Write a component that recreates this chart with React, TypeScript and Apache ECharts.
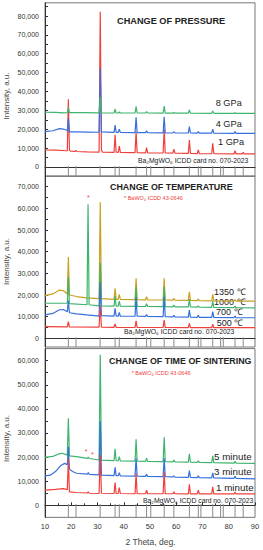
import React, { useEffect, useRef } from "react";
import * as echarts from "echarts";

// ---- data (2θ in degrees, intensity in thousands of counts) ----
const cardPositions = [18.9, 21.8, 31.0, 36.7, 38.3, 44.7, 48.7, 50.3, 55.4, 59.1, 65.0, 68.4, 69.4, 73.9, 76.9, 77.9, 82.4, 85.5];

const xTicks = [10, 20, 30, 40, 50, 60, 70, 80, 90];
const p1YLabels = [0, 10, 20, 30, 40, 50, 60, 70, 80];
const p2YLabels = [0, 10, 20, 30, 40, 50, 60, 70];
const p3YLabels = [0, 10, 20, 30, 40, 50, 60];

// Panel 1: change of pressure
const p1Gpa1 = [[10,9.0],[14,8.9],[18,8.6],[18.5,8.6],[18.9,35.9],[19.3,8.8],[19.7,8.4],[21.5,8.3],[21.8,8.8],[22.1,8.2],[26,8.0],[30.6,7.9],[31.05,82.3],[31.5,9.0],[31.9,7.9],[36.3,7.7],[36.7,17.0],[37.1,7.8],[37.9,7.7],[38.3,11.1],[38.7,7.7],[44.3,7.6],[44.7,18.7],[45.1,7.6],[48.3,7.5],[48.7,10.2],[49.1,7.5],[55.0,7.4],[55.4,20.0],[55.8,7.4],[58.7,7.3],[59.1,9.4],[59.5,7.3],[64.6,7.2],[65.0,14.3],[65.4,7.2],[68.0,7.1],[68.4,9.0],[68.8,7.1],[73.5,7.0],[73.9,12.5],[74.3,7.0],[82.0,6.9],[82.4,8.6],[82.8,6.9],[85.1,6.9],[85.5,7.8],[85.9,6.9],[90,6.9]];
const p1Gpa4 = [[10,18.7],[13,19.2],[15.5,20.3],[17,20.1],[18.5,19.3],[18.9,25.8],[19.3,18.6],[22,18.6],[26,18.5],[30.6,18.4],[31.05,52.3],[31.5,18.6],[36.3,18.3],[36.7,22.2],[37.1,18.3],[37.9,18.3],[38.3,20.0],[38.7,18.3],[44.3,18.2],[44.7,26.3],[45.1,18.2],[48.3,18.2],[48.7,19.1],[49.1,18.2],[55.0,18.1],[55.4,26.6],[55.8,18.1],[58.7,18.0],[59.1,18.7],[59.5,18.0],[64.6,18.0],[65.0,21.4],[65.4,18.0],[68.0,17.9],[68.4,18.7],[68.8,17.9],[73.5,17.9],[73.9,20.1],[74.3,17.9],[82.0,17.8],[82.4,18.7],[82.8,17.8],[90,17.8]];
const p1Gpa8 = [[10,29.0],[14,28.9],[17,28.7],[18.5,28.8],[18.9,31.6],[19.3,28.8],[25,28.8],[30.6,28.7],[31.05,37.2],[31.5,28.7],[36.3,28.6],[36.7,30.6],[37.1,28.6],[37.9,28.6],[38.3,29.1],[38.7,28.6],[44.3,28.6],[44.7,32.0],[45.1,28.6],[48.3,28.6],[48.7,29.3],[49.1,28.6],[55.0,28.5],[55.4,32.3],[55.8,28.5],[58.7,28.5],[59.1,28.9],[59.5,28.5],[64.6,28.5],[65.0,30.2],[65.4,28.5],[73.5,28.4],[73.9,29.7],[74.3,28.4],[82.0,28.4],[82.4,28.7],[82.8,28.4],[90,28.4]];

// Panel 2: change of temperature
const p2T500 = [[10,5.4],[18.5,5.3],[18.9,7.7],[19.3,5.3],[30.6,5.2],[31.05,15.2],[31.5,5.2],[36.3,5.1],[36.7,6.6],[37.1,5.1],[44.3,5.0],[44.7,8.1],[45.1,5.0],[55.0,5.0],[55.4,8.4],[55.8,5.0],[64.6,4.9],[65.0,6.9],[65.4,4.9],[73.5,4.9],[73.9,6.6],[74.3,4.9],[90,4.9]];
const p2T700 = [[10,10.8],[13,11.5],[15.5,13.2],[17,13.3],[18.5,12.3],[18.9,17.5],[19.3,11.8],[22,11.3],[26,10.8],[30.6,10.3],[31.05,26.0],[31.5,10.5],[36.3,10.3],[36.7,13.8],[37.1,10.3],[37.9,10.3],[38.3,12.0],[38.7,10.2],[44.3,10.2],[44.7,18.8],[45.1,10.2],[48.3,10.1],[48.7,11.0],[49.1,10.1],[55.0,10.0],[55.4,19.2],[55.8,10.0],[58.7,9.9],[59.1,10.6],[59.5,9.9],[64.6,9.8],[65.0,13.1],[65.4,9.8],[68.0,9.7],[68.4,10.6],[68.8,9.7],[73.5,9.7],[73.9,12.3],[74.3,9.7],[82.0,9.6],[82.4,10.2],[82.8,9.6],[90,9.5]];
const p2T1000 = [[10,16.2],[18.5,16.3],[18.9,28.3],[19.3,16.0],[26.0,15.5],[26.4,61.9],[26.8,15.5],[30.6,15.0],[31.05,35.0],[31.5,15.0],[36.3,14.9],[36.7,19.5],[37.1,14.9],[37.9,14.9],[38.3,17.2],[38.7,14.9],[44.3,14.8],[44.7,23.8],[45.1,14.8],[48.3,14.7],[48.7,16.0],[49.1,14.7],[55.0,14.6],[55.4,23.8],[55.8,14.6],[58.7,14.5],[59.1,15.4],[59.5,14.5],[64.6,14.5],[65.0,18.1],[65.4,14.5],[68.0,14.4],[68.4,15.0],[68.8,14.4],[73.5,14.3],[73.9,17.2],[74.3,14.3],[82.0,14.2],[82.4,14.9],[82.8,14.2],[90,14.1]];
const p2T1350 = [[10,19.7],[13,20.5],[15.5,22.3],[17,22.0],[18.5,20.5],[18.9,37.5],[19.3,20.0],[22,19.3],[26,18.7],[30.6,18.3],[31.05,62.8],[31.5,18.3],[36.3,18.0],[36.7,23.1],[37.1,18.0],[37.9,18.0],[38.3,20.3],[38.7,18.0],[44.3,17.9],[44.7,27.7],[45.1,17.9],[48.3,17.8],[48.7,19.2],[49.1,17.8],[55.0,17.7],[55.4,27.7],[55.8,17.7],[58.7,17.6],[59.1,18.5],[59.5,17.6],[64.6,17.5],[65.0,21.5],[65.4,17.5],[68.0,17.4],[68.4,18.1],[68.8,17.4],[73.5,17.3],[73.9,20.3],[74.3,17.3],[82.0,17.2],[82.4,17.9],[82.8,17.2],[90,17.2]];

// Panel 3: change of time of sintering
const p3Min1 = [[10,6.3],[14,6.6],[17,6.9],[18.5,6.5],[18.9,19.5],[19.3,5.6],[22,5.3],[26.1,5.1],[26.5,5.6],[26.9,5.0],[30.6,4.9],[31.05,21.0],[31.5,5.0],[36.3,4.9],[36.7,9.4],[37.1,4.9],[37.9,4.9],[38.3,7.3],[38.7,4.9],[44.3,4.8],[44.7,13.3],[45.1,4.8],[48.3,4.8],[48.7,6.3],[49.1,4.8],[55.0,4.8],[55.4,13.9],[55.8,4.8],[58.7,4.8],[59.1,5.6],[59.5,4.8],[64.6,4.7],[65.0,8.7],[65.4,4.7],[68.0,4.7],[68.4,6.3],[68.8,4.7],[73.5,4.7],[73.9,7.7],[74.3,4.7],[82.0,4.7],[82.4,5.5],[82.8,4.7],[90,4.7]];
const p3Min3 = [[10,12.2],[12,12.5],[14,14.0],[16,16.5],[17.5,17.4],[18.5,16.8],[18.9,24.3],[19.3,15.0],[20.5,14.0],[22,13.3],[26.1,12.9],[26.5,13.6],[26.9,12.8],[30.6,12.6],[31.05,35.0],[31.5,12.5],[36.3,12.3],[36.7,15.8],[37.1,12.3],[37.9,12.3],[38.3,13.5],[38.7,12.2],[44.3,12.1],[44.7,19.5],[45.1,12.1],[48.3,12.0],[48.7,12.9],[49.1,12.0],[55.0,11.9],[55.4,19.5],[55.8,11.9],[58.7,11.8],[59.1,12.2],[59.5,11.7],[64.6,11.6],[65.0,14.4],[65.4,11.6],[68.0,11.5],[68.4,12.2],[68.8,11.5],[73.5,11.4],[73.9,13.5],[74.3,11.4],[82.0,11.2],[82.4,12.0],[82.8,11.2],[90,11.0]];
const p3Min5 = [[10,19.9],[13,20.3],[15,21.2],[16.5,21.6],[18.0,21.0],[18.5,20.8],[18.9,36.1],[19.3,20.5],[22,20.2],[26.1,19.5],[26.5,20.0],[26.9,19.4],[30.6,18.8],[31.05,62.4],[31.5,18.7],[36.3,18.5],[36.7,23.4],[37.1,18.5],[37.9,18.4],[38.3,20.2],[38.7,18.4],[44.3,18.3],[44.7,27.4],[45.1,18.3],[48.3,18.2],[48.7,19.5],[49.1,18.2],[55.0,18.1],[55.4,28.2],[55.8,18.1],[58.7,18.0],[59.1,18.8],[59.5,18.0],[64.6,17.9],[65.0,21.3],[65.4,17.9],[68.0,17.8],[68.4,18.4],[68.8,17.8],[73.5,17.7],[73.9,20.5],[74.3,17.7],[82.0,17.5],[82.4,18.3],[82.8,17.5],[90,17.4]];

const RED = "#f0403c";
const BLUE = "#3570dc";
const GREEN = "#3fb46e";
const GOLD = "#c9a020";
const FONT = "Liberation Sans, Arial, sans-serif";

const panels = [
  { top: 2.8, bottom: 176.4, min: -5, max: 87, labels: p1YLabels },
  { top: 175.9, bottom: 347.0, min: -4, max: 75, labels: p2YLabels },
  { top: 348.6, bottom: 517.35, min: -5, max: 65, labels: p3YLabels },
];

function fmt(v: number) {
  return (v * 1000).toLocaleString("en-US");
}

export default function App() {
  const ref = useRef<HTMLDivElement>(null);
  useEffect(() => {
    if (!ref.current) return;
    const chart = echarts.init(ref.current, null, { renderer: "svg" });

    const grids = panels.map((p) => ({
      left: 45,
      width: 210,
      top: p.top,
      height: p.bottom - p.top,
      show: true,
      borderColor: "#777",
      borderWidth: 1,
      backgroundColor: "transparent",
    }));

    const xAxes = panels.map((p, i) => ({
      type: "value",
      gridIndex: i,
      min: 10,
      max: 90,
      interval: 10,
      axisLine: { show: true, lineStyle: { color: "#333", width: 1 } },
      axisTick: { show: i === 2, inside: true, length: 3, lineStyle: { color: "#333" } },
      minorTick: { show: i === 2, splitNumber: 2, length: 2, lineStyle: { color: "#333" } },
      axisLabel: { show: i === 2, fontSize: 7.5, color: "#333", fontFamily: FONT, margin: 5 },
      splitLine: { show: false },
    }));

    const yAxes = panels.map((p, i) => {
      const tickVals: number[] = [];
      for (const v of p.labels) { tickVals.push(v); tickVals.push(v + 5); }
      return {
        type: "value",
        gridIndex: i,
        min: p.min,
        max: p.max,
        axisLine: { show: true, lineStyle: { color: "#333", width: 1 } },
        axisTick: { show: true, inside: true, length: 3, customValues: tickVals.filter((v) => v < p.max), lineStyle: { color: "#333" } },
        axisLabel: { show: true, customValues: p.labels, formatter: fmt, fontSize: 7, color: "#333", fontFamily: FONT, margin: 6 },
        splitLine: { show: false },
      };
    });

    const line = (data: number[][], color: string, gi: number) => ({
      type: "line",
      xAxisIndex: gi,
      yAxisIndex: gi,
      data,
      symbol: "none",
      lineStyle: { color, width: 1.2 },
      silent: true,
    });

    const sticks = (gi: number) => ({
      type: "custom",
      xAxisIndex: gi,
      yAxisIndex: gi,
      data: cardPositions.map((c) => [c, 0]),
      renderItem: (params: any, api: any) => {
        const x = api.value(0);
        const a = api.coord([x, 0.5]);
        const b = api.coord([x, panels[gi].min]);
        return {
          type: "line",
          shape: { x1: a[0], y1: a[1], x2: b[0], y2: b[1] },
          style: { stroke: "#8a8a8a", lineWidth: 1 },
        };
      },
      silent: true,
    });

    const txt = (text: string, x: number, y: number, size: number, opts: any = {}) => ({
      type: "text",
      x,
      y,
      rotation: opts.rotation || 0,
      style: {
        text,
        fontSize: size,
        fontFamily: FONT,
        fontWeight: opts.bold ? "bold" : "normal",
        fill: opts.color || "#222",
        align: opts.align || "left",
        verticalAlign: "middle",
      },
      silent: true,
    });

    const card = "Ba\u2082MgWO\u2086 ICDD card no. 070-2023";
    const bawo = "* BaWO\u2084 ICDD 43-0646";

    const graphic = [
      txt("CHANGE OF PRESSURE", 117, 20.7, 9.2, { bold: true }),
      txt("CHANGE OF TEMPERATURE", 110, 186.7, 8.9, { bold: true }),
      txt("CHANGE OF TIME OF SINTERING", 109, 360.7, 8.9, { bold: true }),
      txt(card, 138, 160, 6.8),
      txt(card, 124, 331.7, 6.8),
      txt(card, 143, 500, 6.8),
      txt(bawo, 124, 197.7, 5.5, { color: RED }),
      txt(bawo, 131.7, 372.7, 5.5, { color: RED }),
      txt("*", 88.3, 197, 7, { color: RED, align: "center" }),
      txt("*", 86, 451, 7, { color: RED, align: "center" }),
      txt("*", 92.3, 454, 7, { color: RED, align: "center" }),
      txt("8 GPa", 215.7, 103, 9.2),
      txt("4 GPa", 215.7, 124.3, 9.2),
      txt("1 GPa", 218, 141.7, 9.2),
      txt("1350 \u2103", 214, 291.6, 9),
      txt("1000 \u2103", 214, 302.4, 9),
      txt("700 \u2103", 216, 312, 9),
      txt("500 \u2103", 216.7, 323.3, 9),
      txt("5 minute", 214, 456, 9.8),
      txt("3 minute", 214, 471, 9.8),
      txt("1 minute", 216, 487.3, 9.8),
      txt("Intensity, a.u.", 6, 96, 8, { rotation: Math.PI / 2, align: "center", color: "#444" }),
      txt("Intensity, a.u.", 6, 261.5, 8, { rotation: Math.PI / 2, align: "center", color: "#444" }),
      txt("Intensity, a.u.", 6, 438.5, 8, { rotation: Math.PI / 2, align: "center", color: "#444" }),
      txt("2 Theta, deg.", 150.5, 541.7, 8.5, { align: "center", color: "#444" }),
    ];

    chart.setOption({
      animation: false,
      backgroundColor: "#ffffff",
      grid: grids,
      xAxis: xAxes,
      yAxis: yAxes,
      series: [
        sticks(0),
        sticks(1),
        sticks(2),
        line(p1Gpa1, RED, 0),
        line(p1Gpa4, BLUE, 0),
        line(p1Gpa8, GREEN, 0),
        line(p2T1350, GOLD, 1),
        line(p2T1000, GREEN, 1),
        line(p2T700, BLUE, 1),
        line(p2T500, RED, 1),
        line(p3Min5, GREEN, 2),
        line(p3Min3, BLUE, 2),
        line(p3Min1, RED, 2),
      ],
      graphic,
    });
    return () => chart.dispose();
  }, []);
  return <div ref={ref} style={{ position: "fixed", left: 0, top: 0, width: 263, height: 550 }} />;
}
